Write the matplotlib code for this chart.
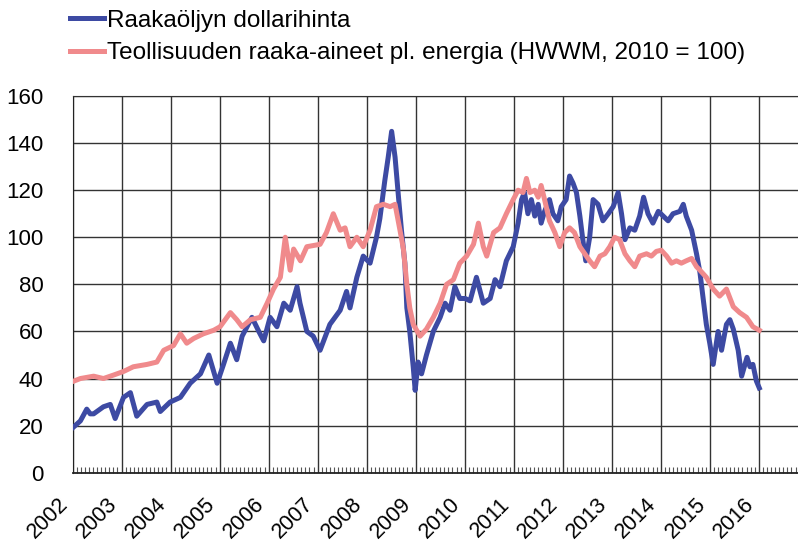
import matplotlib
matplotlib.use('Agg')
import matplotlib.pyplot as plt
from matplotlib.ticker import MultipleLocator, FixedLocator

# Raakaöljyn dollarihinta (luettu kuvasta, vuosi desimaalina)
oil_year = [2002.00, 2002.16, 2002.29, 2002.36, 2002.43, 2002.63, 2002.77, 2002.87,
            2003.04, 2003.18, 2003.31, 2003.52, 2003.72, 2003.79, 2003.99,
            2004.20, 2004.40, 2004.61, 2004.78, 2004.95,
            2005.08, 2005.22, 2005.35, 2005.46, 2005.66, 2005.80, 2005.90,
            2006.03, 2006.17, 2006.31, 2006.44, 2006.58, 2006.64, 2006.78, 2006.91,
            2007.05, 2007.25, 2007.46, 2007.59, 2007.66, 2007.80, 2007.93,
            2008.07, 2008.20, 2008.27, 2008.37, 2008.44, 2008.51, 2008.58, 2008.65,
            2008.71, 2008.78, 2008.82, 2008.88, 2008.95, 2008.99,
            2009.05, 2009.12, 2009.22, 2009.36, 2009.50, 2009.60, 2009.70, 2009.80, 2009.90,
            2010.01, 2010.11, 2010.24, 2010.38, 2010.52, 2010.62, 2010.72, 2010.85, 2010.99,
            2011.09, 2011.16, 2011.22, 2011.29, 2011.36, 2011.43, 2011.50, 2011.56, 2011.63,
            2011.73, 2011.80, 2011.90, 2011.97,
            2012.07, 2012.14, 2012.21, 2012.28, 2012.35, 2012.41, 2012.47, 2012.55, 2012.62,
            2012.72, 2012.82, 2012.93,
            2013.03, 2013.13, 2013.20, 2013.27, 2013.37, 2013.47, 2013.57, 2013.65, 2013.74,
            2013.84, 2013.95,
            2014.05, 2014.15, 2014.25, 2014.39, 2014.46, 2014.52, 2014.63, 2014.73, 2014.80,
            2014.86, 2014.93, 2015.00,
            2015.07, 2015.17, 2015.24, 2015.34, 2015.41, 2015.48, 2015.58, 2015.65, 2015.76,
            2015.82, 2015.88, 2015.95, 2016.01]
oil_value = [19, 22, 27, 25, 25, 28, 29, 23,
             32, 34, 24, 29, 30, 26, 30,
             32, 38, 42, 50, 38,
             46, 55, 48, 58, 66, 60, 56,
             66, 62, 72, 69, 79, 72, 60, 58,
             52, 63, 69, 77, 70, 83, 92,
             89, 100, 108, 124, 134, 145, 134, 117,
             103, 89, 70, 60, 45, 35,
             47, 42, 50, 60, 66, 72, 69, 79, 74,
             74, 73, 83, 72, 74, 82, 79, 90, 96,
             106, 116, 119, 110, 116, 109, 114, 106, 111,
             116, 110, 107, 113,
             116, 126, 123, 119, 109, 99, 90, 100, 116,
             114, 107, 110,
             113, 119, 110, 99, 104, 103, 109, 117, 110,
             106, 111,
             109, 107, 110, 111, 114, 109, 103, 93, 85,
             75, 63, 55,
             46, 60, 52, 63, 65, 61, 52, 41, 49,
             45, 46, 39, 36]

# Teollisuuden raaka-aineet pl. energia (HWWI, 2010 = 100)
metal_year = [2002.00, 2002.16, 2002.43, 2002.63, 2002.84,
              2003.04, 2003.24, 2003.52, 2003.72, 2003.86,
              2004.06, 2004.20, 2004.33, 2004.47, 2004.67, 2004.88,
              2005.01, 2005.22, 2005.35, 2005.46, 2005.63, 2005.83, 2005.97,
              2006.10, 2006.24, 2006.34, 2006.44, 2006.51, 2006.65, 2006.78,
              2007.05, 2007.18, 2007.32, 2007.46, 2007.56, 2007.66, 2007.80, 2007.93,
              2008.07, 2008.20, 2008.34, 2008.48, 2008.58, 2008.68, 2008.75, 2008.82,
              2008.88, 2008.95,
              2009.09, 2009.22, 2009.36, 2009.50, 2009.63, 2009.77, 2009.90,
              2010.04, 2010.18, 2010.28, 2010.38, 2010.45, 2010.59, 2010.72, 2010.85, 2010.99,
              2011.09, 2011.19, 2011.26, 2011.33, 2011.43, 2011.50, 2011.56, 2011.63, 2011.73,
              2011.84, 2011.94,
              2012.04, 2012.14, 2012.24, 2012.35, 2012.45, 2012.55, 2012.65, 2012.76, 2012.86,
              2012.96,
              2013.06, 2013.16, 2013.27, 2013.37, 2013.47, 2013.57, 2013.71, 2013.81, 2013.91,
              2014.01, 2014.12, 2014.22, 2014.32, 2014.42, 2014.52, 2014.63, 2014.73, 2014.80,
              2014.93,
              2015.07, 2015.20, 2015.34, 2015.48, 2015.61, 2015.75, 2015.88, 2016.01]
metal_value = [38.7, 40, 41, 40, 41.5,
               43, 45, 46, 47, 52,
               54, 59, 55, 57, 59, 60.5,
               62, 68, 65, 62, 65, 66, 72,
               78, 83, 100, 86, 95, 90, 96,
               97, 102, 110, 103, 104, 96, 100, 96,
               103, 113, 114, 113, 114, 103, 95, 80,
               70, 63,
               58, 61, 66, 72, 80, 82, 89,
               92, 97, 106, 96, 92, 102, 104, 110, 116,
               120, 119, 125, 119, 120, 117, 122, 116, 107,
               102, 96,
               102, 104, 102, 96, 93, 90, 87.5, 92, 93,
               96,
               100, 99, 93, 90, 87.5, 92, 93, 92, 94,
               94.5, 92, 89, 90, 89, 90, 91, 87.5, 86,
               83,
               78, 75, 78, 70.5, 68, 66, 62, 60.5]

years = list(range(2002, 2017))
y_ticks = list(range(0, 161, 20))

plt.rcParams['font.family'] = ['Liberation Sans', 'DejaVu Sans']

fig = plt.figure(figsize=(7.98, 5.48), dpi=100)
ax = fig.add_axes([0.0909, 0.1374, 0.9091, 0.6874])

ax.plot(oil_year, oil_value, color='#3d4aa3', lw=3.6, label='Raakaöljyn dollarihinta', zorder=3)
ax.plot(metal_year, metal_value, color='#f08a8c', lw=3.6,
        label='Teollisuuden raaka-aineet pl. energia (HWWM, 2010 = 100)', zorder=3)

ax.set_xlim(2002, 2016.8)
ax.set_ylim(0, 160)

# akselit ja ruudukko
ax.xaxis.set_major_locator(FixedLocator(years))
ax.xaxis.set_minor_locator(MultipleLocator(1 / 12))
ax.set_xticklabels([str(y) for y in years], rotation=45, ha='right', fontsize=15.5)
ax.set_yticks(y_ticks)
ax.set_yticklabels([str(v) for v in y_ticks], fontsize=16)
ax.tick_params(axis='x', which='major', length=0, pad=15)
ax.tick_params(axis='x', which='minor', direction='in', length=4, width=0.8, color='#555555')
ax.tick_params(axis='y', which='both', length=0, pad=21)
ax.grid(True, which='major', color='#333333', lw=1.0, zorder=1)

ax.spines['right'].set_visible(False)
ax.spines['top'].set_color('#333333')
ax.spines['left'].set_color('#222222')
ax.spines['bottom'].set_color('#222222')
ax.spines['bottom'].set_linewidth(1.3)

fig.legend(loc='upper left', bbox_to_anchor=(0.0877, 0.982), frameon=False, fontsize=17.5,
           handlelength=1.4, handletextpad=0.12, labelspacing=0.42, borderpad=0, borderaxespad=0)

plt.savefig('out.png', dpi=100)
